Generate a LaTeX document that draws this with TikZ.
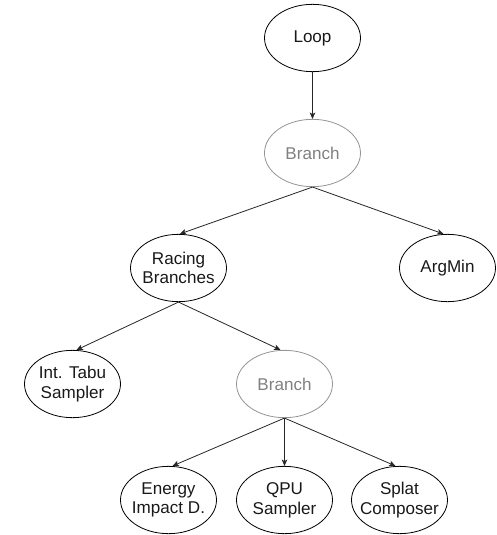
\documentclass[tikz,border=0pt]{standalone}
\usepackage{fontspec}
\setmainfont{Liberation Sans}
\usetikzlibrary{shapes.geometric,arrows.meta}
\begin{document}
\begin{tikzpicture}[x=0.75pt,y=-0.75pt,
  every node/.style={font=\fontsize{12.8}{14.8}\selectfont},
  nd/.style={ellipse,draw=black,line width=0.6pt,minimum width=72pt,minimum height=50.5pt,inner sep=0pt},
  lbl/.style={align=center,text=black!90},
  br/.style={nd,draw=black!42},
  brl/.style={align=center,text=black!50},
  edge/.style={draw=black!85,line width=0.6pt,-{Stealth[length=4.8pt,width=4.2pt,inset=1.2pt]}}]
\useasboundingbox (0,0) rectangle (496,535);
\node[nd,label={[lbl]center:Loop}] (loop) at (312.5,38) {};
\node[br,label={[brl]center:Branch}] (b1) at (312.5,153) {};
\node[nd,label={[lbl]center:Racing\\Branches}] (rb) at (178.5,268) {};
\node[nd,label={[lbl]center:ArgMin}] (am) at (447.5,268) {};
\node[nd,label={[lbl]center:Int. Tabu\\Sampler}] (it) at (72.5,384) {};
\node[br,label={[brl]center:Branch}] (b2) at (284.5,384) {};
\node[nd,label={[lbl]center:Energy\\Impact D.}] (ei) at (168.5,500) {};
\node[nd,label={[lbl]center:QPU\\Sampler}] (qs) at (284.5,500) {};
\node[nd,label={[lbl]center:Splat\\Composer}] (sc) at (399.5,500) {};
\draw[edge] (loop.south) -- (b1.north);
\draw[edge] (b1.south) -- ([xshift=1pt]rb.north);
\draw[edge] (b1.south) -- ([xshift=-3pt]am.north);
\draw[edge] (rb.south) -- ([xshift=3pt]it.north);
\draw[edge] (rb.south) -- ([xshift=-3pt]b2.north);
\draw[edge] (b2.south) -- ([xshift=3pt]ei.north);
\draw[edge] (b2.south) -- (qs.north);
\draw[edge] (b2.south) -- ([xshift=-3pt]sc.north);
\end{tikzpicture}
\end{document}
